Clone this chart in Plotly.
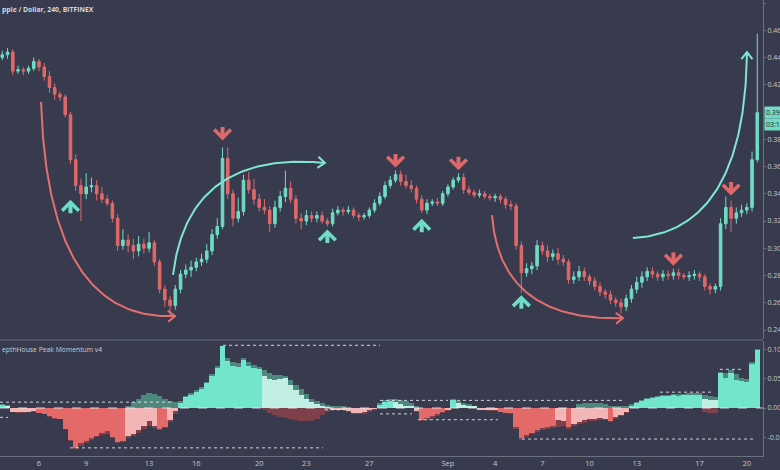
import numpy as np
import plotly.graph_objects as go

# ---------------- data (8-hour candles, x = day of August; Sep 1 = 32) ----------------
closes = [
    0.442, 0.444, 0.430, 0.431, 0.430, 0.432, 0.437, 0.433, 0.426, 0.418,
    0.413, 0.411, 0.398, 0.365, 0.346, 0.340, 0.345, 0.346, 0.340, 0.336,
    0.333, 0.322, 0.302, 0.306, 0.302, 0.298, 0.303, 0.300, 0.304, 0.290,
    0.270, 0.262, 0.258, 0.270, 0.281, 0.284, 0.286, 0.290, 0.292, 0.298,
    0.310, 0.316, 0.366, 0.340, 0.322, 0.327, 0.350, 0.343, 0.336, 0.330,
    0.328, 0.318, 0.330, 0.338, 0.344, 0.336, 0.322, 0.320, 0.324, 0.322,
    0.324, 0.320, 0.318, 0.326, 0.328, 0.327, 0.328, 0.324, 0.323, 0.324,
    0.328, 0.333, 0.338, 0.346, 0.350, 0.354, 0.349, 0.346, 0.344, 0.336,
    0.328, 0.333, 0.334, 0.333, 0.340, 0.345, 0.350, 0.352, 0.343, 0.341,
    0.339, 0.340, 0.338, 0.337, 0.338, 0.336, 0.332, 0.331, 0.302, 0.282,
    0.285, 0.287, 0.302, 0.298, 0.294, 0.296, 0.292, 0.290, 0.277, 0.279,
    0.283, 0.279, 0.276, 0.272, 0.268, 0.266, 0.262, 0.260, 0.257, 0.263,
    0.270, 0.275, 0.279, 0.283, 0.281, 0.279, 0.281, 0.280, 0.282, 0.280,
    0.279, 0.280, 0.281, 0.279, 0.272, 0.270, 0.272, 0.318, 0.330, 0.322,
    0.326, 0.328, 0.330, 0.365, 0.3995,
]
first_open = 0.440

# wick extensions beyond the body, in thousandths of a dollar
wick_up = [
    3, 3, 2, 3, 2, 2, 3, 2, 3, 4,
    3, 2, 2, 2, 4, 5, 10, 6, 4, 5,
    3, 2, 3, 8, 4, 5, 6, 4, 8, 2,
    2, 3, 3, 3, 3, 4, 5, 3, 4, 5,
    4, 6, 8, 8, 3, 10, 4, 6, 8, 4,
    6, 3, 5, 4, 13, 5, 3, 4, 4, 3,
    3, 3, 2, 3, 3, 2, 3, 2, 2, 2,
    2, 3, 3, 3, 3, 3, 3, 5, 4, 2,
    3, 3, 2, 3, 2, 2, 2, 3, 3, 3,
    2, 3, 2, 2, 2, 2, 2, 3, 2, 3,
    4, 3, 4, 3, 4, 3, 4, 3, 2, 4,
    4, 3, 2, 3, 3, 2, 3, 2, 3, 3,
    3, 4, 4, 3, 3, 2, 3, 3, 3, 3,
    2, 3, 3, 2, 2, 2, 2, 4, 8, 5,
    4, 4, 3, 6, 58,
]
wick_dn = [
    2, 3, 3, 2, 3, 2, 2, 3, 3, 4,
    4, 3, 2, 3, 4, 20, 4, 4, 5, 3,
    2, 3, 4, 3, 5, 6, 4, 4, 3, 3,
    3, 5, 8, 3, 3, 3, 5, 3, 3, 3,
    3, 3, 2, 4, 6, 3, 3, 3, 4, 3,
    3, 6, 3, 3, 4, 3, 4, 6, 3, 3,
    3, 2, 2, 2, 2, 3, 2, 2, 3, 2,
    2, 2, 2, 2, 2, 2, 3, 2, 3, 3,
    2, 3, 2, 2, 2, 2, 2, 2, 3, 2,
    2, 2, 2, 2, 3, 3, 3, 3, 3, 15,
    3, 4, 3, 3, 4, 3, 4, 3, 3, 3,
    3, 3, 3, 3, 3, 3, 3, 3, 5, 3,
    3, 3, 4, 3, 3, 3, 3, 3, 3, 3,
    2, 3, 3, 3, 3, 4, 3, 3, 4, 10,
    4, 3, 3, 3, 2,
]

# Peak Momentum histogram (thousandths)
momentum = [
    5, 3, -6, -7, -7, -6, -5, -8, -10, -14,
    -17, -18, -35, -55, -68, -60, -57, -52, -47, -42,
    -40, -50, -58, -56, -48, -44, -38, -30, -22, -30,
    -36, -32, -20, -5, 8, 18, 22, 27, 33, 42,
    55, 68, 105, 80, 72, 70, 82, 72, 68, 66,
    55, 50, 48, 50, 52, 40, 30, 22, 15, 10,
    6, 3, 1, -2, -3, -2, -5, -8, -9, -7,
    -4, -1, 5, 10, 12, 10, 6, 4, 2, -5,
    -20, -17, -14, -10, -7, -3, 14, 8, 5, 4,
    3, -2, -3, -4, -3, -6, -8, -9, -33, -52,
    -46, -42, -38, -34, -32, -31, -20, -22, -33, -27,
    -24, -20, -19, -18, -17, -18, -22, -15, -12, -6,
    3, 8, 12, 15, 17, 19, 20, 21, 22, 21,
    22, 22, 23, 22, 15, 13, 14, 60, 52, 60,
    48, 46, 45, 75, 99,
]
# colour phase of the histogram: B bull, L bull fading, R bear, P bear fading
phase_runs = [("B", 1), ("L", 1), ("P", 5), ("R", 17), ("P", 6), ("R", 2), ("P", 2),
              ("B", 16), ("L", 13), ("P", 9), ("B", 3), ("L", 4), ("P", 1), ("R", 5),
              ("P", 1), ("B", 1), ("L", 4), ("P", 4), ("R", 11), ("P", 2), ("R", 1),
              ("P", 7), ("R", 1), ("P", 3), ("B", 14), ("L", 3), ("B", 8)]

bull_shadow = [
    6, 5, 0, 0, 0, 0, 0, 0, 0, 0,
    0, 0, 0, 0, 0, 0, 0, 0, 0, 0,
    0, 0, 0, 0, 4, 10, 16, 22, 26, 24,
    20, 16, 12, 10, 12, 20, 25, 30, 36, 45,
    58, 72, 100, 86, 78, 76, 85, 78, 74, 70,
    64, 60, 57, 56, 55, 48, 40, 32, 24, 16,
    12, 8, 5, 3, 2, 2, 0, 0, 0, 0,
    0, 0, 8, 13, 16, 16, 14, 12, 8, 3,
    0, 0, 0, 0, 0, 0, 16, 12, 8, 6,
    4, 0, 0, 0, 0, 0, 0, 0, 0, 0,
    0, 0, 0, 0, 0, 0, 0, 0, 0, 0,
    6, 8, 9, 9, 8, 6, 4, 3, 2, 2,
    6, 10, 14, 17, 19, 21, 22, 23, 24, 24,
    24, 25, 25, 25, 22, 20, 18, 62, 60, 64,
    58, 52, 50, 78, 100,
]
bear_shadow = [
    0, 0, -7, -8, -8, -7, -6, -9, -11, -15,
    -18, -19, -36, -56, -70, -64, -60, -55, -50, -46,
    -44, -52, -60, -58, -52, -48, -43, -36, -30, -34,
    -38, -34, -24, -10, 0, 0, 0, 0, 0, 0,
    0, 0, 0, 0, 0, 0, 0, 0, 0, 0,
    -4, -8, -12, -15, -17, -19, -21, -23, -23, -22,
    -18, -12, -7, -4, -4, -4, -7, -10, -11, -10,
    -7, -3, 0, 0, 0, 0, 0, 0, 0, -7,
    -22, -20, -17, -13, -9, -5, 0, 0, 0, 0,
    0, -3, -4, -5, -5, -7, -9, -11, -35, -54,
    -50, -45, -41, -37, -35, -34, -32, -30, -35, -31,
    -28, -25, -23, -22, -21, -21, -24, -18, -14, -8,
    0, 0, 0, 0, 0, 0, 0, 0, 0, 0,
    0, 0, 0, 0, -6, -8, -8, 0, 0, 0,
    0, 0, 0, 0, 0,
]

# dotted peak levels: (from day, to day, value)
peak_levels = [
    (3.52, 14.52, 0.010), (3.52, 4.03, -0.016), (7.97, 24.05, -0.068),
    (17.70, 27.68, 0.107), (24.18, 25.77, -0.003), (27.68, 29.71, -0.010),
    (27.68, 32.00, 0.013), (32.57, 43.13, 0.013), (30.09, 35.18, -0.020),
    (36.71, 51.52, -0.053), (45.48, 48.85, 0.027), (49.29, 50.76, 0.066),
]

tick_days = [6, 9, 13, 16, 20, 23, 27, 32, 35, 38, 41, 44, 48, 51]
tick_text = ["6", "9", "13", "16", "20", "23", "27", "Sep", "4", "7", "10", "13", "17", "20"]
# 0.40 is hidden under the last-price label in the reference
price_ticks = [0.24, 0.26, 0.28, 0.30, 0.32, 0.34, 0.36, 0.38, 0.42, 0.44, 0.46, 0.48]
mom_ticks = [-0.05, 0.0, 0.05, 0.10]
mom_tick_text = ["-0.05", "0.00", "0.05", "0.10"]

down_arrow_idx = [42, 75, 87, 128, 139]
up_arrow_idx = [13, 62, 80, 99]

# hand-drawn curved arrows: (start, control, end) as (day, price)
curve_red_1 = ((6.13, 0.4073), (6.57, 0.2459), (14.65, 0.2503))
curve_teal_1 = ((14.52, 0.2804), (15.47, 0.3721), (24.18, 0.3626))
curve_red_2 = ((34.80, 0.3244), (35.31, 0.2459), (43.13, 0.2488))
curve_teal_2 = ((43.76, 0.3075), (50.88, 0.3119), (51.01, 0.4440))

# ---------------- styling ----------------
BG = "#373b4d"
UP = "#6fdcc3"
DN = "#e06868"
PHASE_COL = {"B": "#72e6cc", "L": "#c2efe4", "R": "#e46a6a", "P": "#f2b6b6"}
DARK_TEAL = "#4d877e"
DARK_RED = "#7e4049"
AXIS = "#6c7080"
TXT = "#c3c6cf"
CURVE_TEAL = "#7fe6d0"
CURVE_RED = "#e46f6f"
FONT = "Open Sans"

X0, X1 = 3.52, 52.03
PR0, PR1 = 0.2334, 0.4822
MR0, MR1 = -0.0819, 0.1143
PLOT_W_PX, PRICE_H_PX = 763, 339
SX = PLOT_W_PX / (X1 - X0)
SY = PRICE_H_PX / (PR1 - PR0)

n = len(closes)
days = [3 + 16 / 24 + i * 8 / 24 for i in range(n)]
opens = [first_open] + closes[:-1]
highs = [max(o, c) + w / 1000 for o, c, w in zip(opens, closes, wick_up)]
lows = [min(o, c) - w / 1000 for o, c, w in zip(opens, closes, wick_dn)]
phases = "".join(code * cnt for code, cnt in phase_runs)

fig = go.Figure()

fig.add_trace(go.Candlestick(
    x=days, open=opens, high=highs, low=lows, close=closes,
    increasing=dict(line=dict(color=UP, width=1), fillcolor=UP),
    decreasing=dict(line=dict(color=DN, width=1), fillcolor=DN),
    whiskerwidth=0, xaxis="x", yaxis="y", showlegend=False, hoverinfo="skip",
))

bar_w = 0.345
fig.add_trace(go.Bar(x=days, y=[v / 1000 for v in bull_shadow], width=bar_w,
                     marker=dict(color=DARK_TEAL, line=dict(width=0)),
                     xaxis="x", yaxis="y2", showlegend=False, hoverinfo="skip"))
fig.add_trace(go.Bar(x=days, y=[v / 1000 for v in bear_shadow], width=bar_w,
                     marker=dict(color=DARK_RED, line=dict(width=0)),
                     xaxis="x", yaxis="y2", showlegend=False, hoverinfo="skip"))
fig.add_trace(go.Bar(x=days, y=[v / 1000 for v in momentum], width=bar_w,
                     marker=dict(color=[PHASE_COL[p] for p in phases], line=dict(width=0)),
                     xaxis="x", yaxis="y2", showlegend=False, hoverinfo="skip"))


def bezier(a, c, b, num=90):
    t = np.linspace(0, 1, num)[:, None]
    pts = (1 - t) ** 2 * np.array(a) + 2 * (1 - t) * t * np.array(c) + t ** 2 * np.array(b)
    return pts[:, 0], pts[:, 1]


def chevron(c, b, length=9.0, ang=38.0):
    dx = (b[0] - c[0]) * SX
    dy = (b[1] - c[1]) * SY
    L = np.hypot(dx, dy)
    ux, uy = dx / L, dy / L
    xs, ys = [], []
    for k, s in enumerate((1, -1)):
        a = np.radians(ang * s)
        rx = -ux * np.cos(a) + uy * np.sin(a)
        ry = -ux * np.sin(a) - uy * np.cos(a)
        px, py = b[0] + rx * length / SX, b[1] + ry * length / SY
        if k == 0:
            xs += [px, b[0]]
            ys += [py, b[1]]
        else:
            xs += [px]
            ys += [py]
    return xs, ys


for crv, col in ((curve_red_1, CURVE_RED), (curve_teal_1, CURVE_TEAL),
                 (curve_red_2, CURVE_RED), (curve_teal_2, CURVE_TEAL)):
    bx, by = bezier(*crv)
    fig.add_trace(go.Scatter(x=bx, y=by, mode="lines", line=dict(color=col, width=2),
                             xaxis="x", yaxis="y", showlegend=False, hoverinfo="skip"))
    cx, cy = chevron(crv[1], crv[2])
    fig.add_trace(go.Scatter(x=cx, y=cy, mode="lines", line=dict(color=col, width=2),
                             xaxis="x", yaxis="y", showlegend=False, hoverinfo="skip"))

annotations = []
down_gap = [7, 3, 3, 3, 5]
up_gap = [36, 3, 6, 2]
for i, g in zip(down_arrow_idx, down_gap):
    annotations.append(dict(x=days[i], y=highs[i], xref="x", yref="y", text="",
                            showarrow=True, arrowhead=4, arrowsize=0.8, arrowwidth=4,
                            arrowcolor=DN, ax=0, ay=-15, yshift=g, standoff=0))
for i, g in zip(up_arrow_idx, up_gap):
    annotations.append(dict(x=days[i], y=lows[i], xref="x", yref="y", text="",
                            showarrow=True, arrowhead=4, arrowsize=0.8, arrowwidth=4,
                            arrowcolor=UP, ax=0, ay=15, yshift=-g, standoff=0))

annotations += [
    dict(x=0, y=1 - 9.5 / 456, xref="paper", yref="paper", xanchor="left", yanchor="middle",
         text="<b>pple / Dollar, 240, BITFINEX</b>", showarrow=False,
         font=dict(family=FONT, size=6.8, color="#d4d6dc")),
    dict(x=0, y=(456 - 349) / 456, xref="paper", yref="paper", xanchor="left", yanchor="middle",
         text="epthHouse Peak Momentum v4", showarrow=False,
         font=dict(family=FONT, size=6.8, color="#c9cbd2")),
    dict(x=1, y=closes[-1], xref="paper", yref="y", xanchor="left", yanchor="middle", xshift=1,
         text=f"{closes[-1]:.4f}", showarrow=False, bgcolor=UP, borderpad=1,
         font=dict(family=FONT, size=7, color="#1f2330")),
    dict(x=1, y=closes[-1], xref="paper", yref="y", xanchor="left", yanchor="middle", xshift=1,
         yshift=-12, text="03:12:44", showarrow=False, bgcolor=UP, borderpad=1,
         font=dict(family=FONT, size=7, color="#1f2330")),
]

shapes = [
    dict(type="line", xref="paper", yref="paper", x0=0, x1=1, y0=(456 - 340) / 456,
         y1=(456 - 340) / 456, line=dict(color="#4e5265", width=2)),
    dict(type="line", xref="x", yref="y2", x0=X0, x1=X1, y0=0, y1=0, layer="above",
         line=dict(color="rgba(240,240,245,0.85)", width=1, dash="dash")),
]
for d0, d1, v in peak_levels:
    shapes.append(dict(type="line", xref="x", yref="y2", x0=d0, x1=d1, y0=v, y1=v, layer="above",
                       line=dict(color="rgba(235,236,242,0.85)", width=1, dash="dot")))

fig.update_layout(
    width=780, height=470,
    margin=dict(l=0, r=17, t=0, b=14),
    paper_bgcolor=BG, plot_bgcolor=BG,
    font=dict(family=FONT, size=7, color=TXT),
    barmode="overlay", bargap=0,
    showlegend=False,
    xaxis=dict(domain=[0, 1], range=[X0, X1], anchor="y2", tickvals=tick_days, ticktext=tick_text,
               showgrid=False, zeroline=False, showline=True, linecolor=AXIS, linewidth=1,
               ticks="", tickfont=dict(size=7.5, color=TXT), rangeslider=dict(visible=False),
               automargin=False, fixedrange=True),
    yaxis=dict(domain=[(456 - 339) / 456, 1], range=[PR0, PR1], anchor="x", side="right",
               tickvals=price_ticks, ticktext=[f"{t:.2f}" for t in price_ticks],
               showgrid=False, zeroline=False, showline=True, linecolor=AXIS, linewidth=1,
               ticks="outside", ticklen=2, tickcolor=AXIS, tickfont=dict(size=7, color=TXT),
               automargin=False, fixedrange=True),
    yaxis2=dict(domain=[0, (456 - 341) / 456], range=[MR0, MR1], anchor="x", side="right",
                tickvals=mom_ticks, ticktext=mom_tick_text,
                showgrid=False, zeroline=False, showline=True, linecolor=AXIS, linewidth=1,
                ticks="outside", ticklen=2, tickcolor=AXIS, tickfont=dict(size=7, color=TXT),
                automargin=False, fixedrange=True),
    annotations=annotations,
    shapes=shapes,
)

fig.write_html("out.html", config={"displayModeBar": False},
               post_script="document.body.style.margin='0';document.body.style.background='" + BG + "';")
